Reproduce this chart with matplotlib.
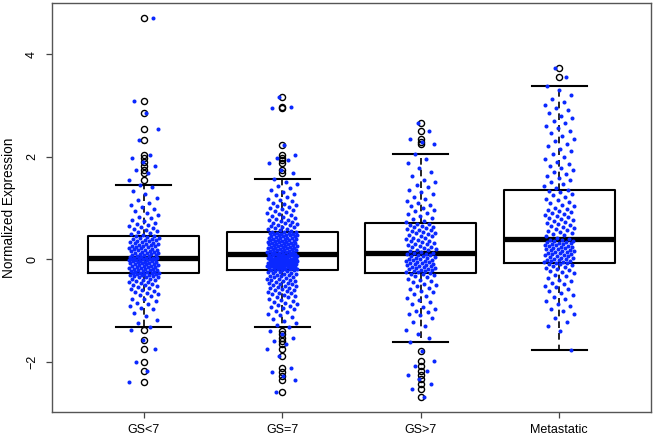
import numpy as np
import matplotlib
matplotlib.use("Agg")
import matplotlib.pyplot as plt

plt.rcParams['font.family'] = ['Liberation Sans', 'DejaVu Sans']

categories = ["GS<7", "GS=7", "GS>7", "Metastatic"]

# box statistics
medians = [0.03, 0.10, 0.11, 0.385]
q1s = [-0.28, -0.215, -0.28, -0.07]
q3s = [0.44, 0.53, 0.70, 1.35]
whis_lo = [-1.32, -1.32, -1.61, -1.78]
whis_hi = [1.45, 1.56, 2.04, 3.37]
fliers = [
    [-2.40, -2.18, -2.00, -1.76, -1.57, -1.38, 1.55, 1.68, 1.74, 1.82, 1.89, 1.97, 2.03, 2.32, 2.53, 2.85, 3.09, 4.70],
    [-2.59, -2.36, -2.28, -2.20, -2.13, -1.89, -1.75, -1.66, -1.60, -1.54, -1.47, -1.41,
     1.68, 1.74, 1.88, 1.93, 1.98, 2.03, 2.23, 2.94, 2.96, 3.17],
    [-2.70, -2.53, -2.44, -2.35, -2.26, -2.18, -2.09, -1.99, -1.79, 2.24, 2.28, 2.35, 2.49, 2.65],
    [3.56, 3.72],
]

# individual samples (estimated from the jittered points)
gs_lt7 = [
    -2.40, -2.18, -2.00, -1.76, -1.57, -1.38,
    -1.32, -1.24, -1.19, -1.11, -1.06, -0.98, -0.95, -0.91, -0.87, -0.86, -0.81, -0.78, -0.77, -0.73,
    -0.70, -0.69, -0.66, -0.64, -0.62, -0.61, -0.58, -0.56, -0.55, -0.53, -0.51, -0.50, -0.48, -0.47,
    -0.45, -0.44, -0.43, -0.41, -0.40, -0.39, -0.38, -0.36, -0.36, -0.35, -0.34, -0.33, -0.32, -0.31,
    -0.31, -0.30, -0.29, -0.29, -0.28,
    -0.28, -0.27, -0.27, -0.26, -0.25, -0.25, -0.24, -0.23, -0.22, -0.22, -0.21, -0.20, -0.19, -0.19,
    -0.18, -0.17, -0.16, -0.16, -0.15, -0.14, -0.13, -0.13, -0.12, -0.11, -0.10, -0.10, -0.09, -0.08,
    -0.08, -0.07, -0.06, -0.05, -0.05, -0.04, -0.03, -0.03, -0.02, -0.01, -0.01, 0.00, 0.00, 0.01,
    0.01, 0.02, 0.02, 0.03, 0.03, 0.03,
    0.04, 0.04, 0.05, 0.06, 0.07, 0.07, 0.08, 0.09, 0.10, 0.11, 0.12, 0.12, 0.13, 0.14, 0.15, 0.16,
    0.17, 0.18, 0.18, 0.19, 0.20, 0.21, 0.22, 0.23, 0.24, 0.25, 0.25, 0.26, 0.27, 0.28, 0.29, 0.30,
    0.31, 0.32, 0.33, 0.34, 0.35, 0.36, 0.37, 0.38, 0.39, 0.40, 0.41, 0.42, 0.43, 0.44, 0.44,
    0.46, 0.48, 0.50, 0.52, 0.54, 0.56, 0.58, 0.60, 0.62, 0.64, 0.66, 0.69, 0.71, 0.74, 0.77, 0.80,
    0.83, 0.86, 0.90, 0.93, 0.97, 1.01, 1.05, 1.10, 1.15, 1.20, 1.27, 1.33, 1.40, 1.45,
    1.55, 1.68, 1.74, 1.82, 1.89, 1.97, 2.03, 2.32, 2.53, 2.85, 3.09, 4.70,
]
gs_eq7 = [
    -2.59, -2.36, -2.28, -2.20, -2.13, -1.89, -1.75, -1.66, -1.60, -1.54, -1.47, -1.41,
    -1.32, -1.29, -1.24, -1.20, -1.17, -1.13, -1.10, -1.07, -1.04, -1.01, -0.98, -0.96, -0.93, -0.91,
    -0.89, -0.87, -0.85, -0.83, -0.81, -0.79, -0.77, -0.75, -0.74, -0.72, -0.70, -0.69, -0.67, -0.66,
    -0.64, -0.63, -0.61, -0.60, -0.58, -0.57, -0.56, -0.54, -0.53, -0.52, -0.50, -0.49, -0.48, -0.47,
    -0.46, -0.44, -0.43, -0.42, -0.41, -0.40, -0.39, -0.38, -0.37, -0.36, -0.35, -0.34, -0.33, -0.32,
    -0.31, -0.30, -0.29, -0.28, -0.27, -0.26, -0.25, -0.24, -0.23, -0.22,
    -0.21, -0.21, -0.20, -0.20, -0.19, -0.19, -0.18, -0.18, -0.17, -0.17, -0.16, -0.16, -0.15, -0.15,
    -0.14, -0.14, -0.13, -0.13, -0.12, -0.12, -0.12, -0.11, -0.11, -0.10, -0.10, -0.09, -0.09, -0.08,
    -0.08, -0.08, -0.07, -0.07, -0.06, -0.06, -0.05, -0.05, -0.04, -0.04, -0.04, -0.03, -0.03, -0.02,
    -0.02, -0.01, -0.01, 0.00, 0.00, 0.00, 0.01, 0.01, 0.02, 0.02, 0.03, 0.03, 0.04, 0.04, 0.04, 0.05,
    0.05, 0.06, 0.06, 0.07, 0.07, 0.08, 0.08, 0.08, 0.09, 0.09, 0.10,
    0.11, 0.11, 0.12, 0.13, 0.13, 0.14, 0.14, 0.15, 0.16, 0.16, 0.17, 0.17, 0.18, 0.19, 0.19, 0.20,
    0.21, 0.21, 0.22, 0.22, 0.23, 0.24, 0.24, 0.25, 0.26, 0.26, 0.27, 0.27, 0.28, 0.29, 0.29, 0.30,
    0.31, 0.31, 0.32, 0.32, 0.33, 0.34, 0.34, 0.35, 0.36, 0.36, 0.37, 0.37, 0.38, 0.39, 0.39, 0.40,
    0.41, 0.41, 0.42, 0.42, 0.43, 0.44, 0.44, 0.45, 0.46, 0.46, 0.47, 0.47, 0.48, 0.49, 0.49, 0.50,
    0.51, 0.51, 0.52, 0.52, 0.53,
    0.55, 0.56, 0.58, 0.59, 0.60, 0.62, 0.63, 0.64, 0.66, 0.67, 0.68, 0.70, 0.71, 0.73, 0.74, 0.76,
    0.77, 0.79, 0.80, 0.82, 0.84, 0.85, 0.87, 0.89, 0.91, 0.93, 0.95, 0.97, 0.99, 1.01, 1.03, 1.05,
    1.08, 1.10, 1.13, 1.15, 1.18, 1.21, 1.24, 1.27, 1.30, 1.34, 1.38, 1.42, 1.46, 1.51, 1.56,
    1.68, 1.74, 1.88, 1.93, 1.98, 2.03, 2.23, 2.94, 2.96, 3.17,
]
gs_gt7 = [
    -2.70, -2.53, -2.44, -2.35, -2.26, -2.18, -2.09, -1.99, -1.79,
    -1.61, -1.55, -1.47, -1.38, -1.30, -1.22, -1.16, -1.10, -1.07, -1.04, -1.01, -0.98, -0.93, -0.88,
    -0.84, -0.80, -0.76, -0.72, -0.68, -0.65, -0.62, -0.59, -0.56, -0.53, -0.50, -0.48, -0.45, -0.43,
    -0.40, -0.38, -0.36, -0.34, -0.32, -0.30, -0.29,
    -0.27, -0.26, -0.25, -0.24, -0.23, -0.22, -0.21, -0.20, -0.19, -0.18, -0.17, -0.16, -0.15, -0.14,
    -0.13, -0.12, -0.11, -0.10, -0.09, -0.08, -0.07, -0.06, -0.05, -0.04, -0.03, -0.02, -0.01, 0.00,
    0.01, 0.02, 0.03, 0.04, 0.05, 0.06, 0.07, 0.08, 0.09, 0.10, 0.11,
    0.12, 0.14, 0.15, 0.17, 0.18, 0.20, 0.21, 0.23, 0.24, 0.26, 0.27, 0.29, 0.30, 0.32, 0.33, 0.35,
    0.36, 0.38, 0.39, 0.41, 0.42, 0.44, 0.45, 0.47, 0.48, 0.50, 0.51, 0.53, 0.54, 0.56, 0.57, 0.59,
    0.60, 0.62, 0.63, 0.65, 0.66, 0.68, 0.69,
    0.72, 0.75, 0.78, 0.81, 0.84, 0.87, 0.90, 0.93, 0.96, 1.00, 1.03, 1.06, 1.10, 1.14, 1.18, 1.22,
    1.26, 1.30, 1.35, 1.40, 1.45, 1.50, 1.55, 1.62, 1.70, 1.78, 1.87, 1.96, 2.04,
    2.24, 2.28, 2.35, 2.49, 2.65,
]
metastatic = [
    -1.78, -1.40, -1.30, -1.22, -1.15, -1.08, -1.02, -0.97, -0.92, -0.87, -0.82, -0.78, -0.74, -0.70,
    -0.66, -0.62, -0.58, -0.55, -0.52, -0.49, -0.46, -0.43, -0.40, -0.37, -0.34, -0.31, -0.28, -0.26,
    -0.24, -0.22, -0.20, -0.18, -0.16, -0.14, -0.12, -0.10, -0.09, -0.08, -0.07,
    -0.06, -0.05, -0.04, -0.03, -0.02, -0.01, 0.00, 0.01, 0.02, 0.03, 0.04, 0.05, 0.06, 0.07, 0.08,
    0.09, 0.10, 0.11, 0.12, 0.13, 0.14, 0.15, 0.16, 0.17, 0.18, 0.19, 0.20, 0.21, 0.22, 0.23, 0.24,
    0.25, 0.26, 0.27, 0.28, 0.29, 0.30, 0.31, 0.32, 0.33, 0.34, 0.35, 0.36, 0.37, 0.38,
    0.40, 0.42, 0.44, 0.46, 0.48, 0.50, 0.52, 0.54, 0.56, 0.58, 0.60, 0.62, 0.64, 0.66, 0.68, 0.70,
    0.72, 0.74, 0.76, 0.78, 0.80, 0.82, 0.84, 0.86, 0.88, 0.90, 0.92, 0.94, 0.96, 0.98, 1.00, 1.03,
    1.06, 1.09, 1.12, 1.15, 1.18, 1.21, 1.24, 1.27, 1.30, 1.33, 1.35,
    1.38, 1.42, 1.46, 1.50, 1.54, 1.58, 1.62, 1.66, 1.70, 1.74, 1.78, 1.82, 1.86, 1.90, 1.95, 2.00,
    2.05, 2.10, 2.15, 2.20, 2.25, 2.30, 2.35, 2.40, 2.45, 2.50, 2.55, 2.60, 2.65, 2.70, 2.75, 2.80,
    2.85, 2.90, 2.95, 3.00, 3.06, 3.12, 3.20, 3.30, 3.37,
    3.56, 3.72,
]
samples = [gs_lt7, gs_eq7, gs_gt7, metastatic]

fig = plt.figure(figsize=(6.55, 4.38), dpi=100)
ax = fig.add_axes([0.0799, 0.0587, 0.9135, 0.9338])

stats = []
for i, name in enumerate(categories):
    stats.append(dict(label=name, med=medians[i], q1=q1s[i], q3=q3s[i],
                      whislo=whis_lo[i], whishi=whis_hi[i], fliers=fliers[i]))

positions = np.arange(1, len(categories) + 1)
ax.bxp(stats, positions=positions, widths=0.8, capwidths=0.4,
       boxprops=dict(color='black', linewidth=1.5),
       medianprops=dict(color='black', linewidth=3.8, solid_capstyle='butt'),
       whiskerprops=dict(color='black', linewidth=1.2, linestyle=(0, (4, 3))),
       capprops=dict(color='black', linewidth=1.5),
       flierprops=dict(marker='o', markerfacecolor='none', markeredgecolor='black',
                       markersize=4.4, markeredgewidth=1.0),
       manage_ticks=False, zorder=2)

golden = 0.6180339887
for i, vals in enumerate(samples):
    v = np.asarray(vals, dtype=float)
    idx = np.arange(len(v))
    offs = ((idx * golden + 0.3 * i) % 1.0) * 2 - 1
    ax.scatter(positions[i] + offs * 0.11, v, s=8.5, color='#0a28ff',
               linewidths=0, zorder=3)

ax.set_xlim(0.34, 4.66)
ax.set_ylim(-2.99, 4.99)
ax.set_xticks(positions)
ax.set_xticklabels(categories)
ax.set_yticks([-2, 0, 2, 4])
ax.set_yticklabels(['\u22122', '0', '2', '4'], rotation=90, va='center')
ax.set_ylabel('Normalized Expression', fontsize=9.8)
ax.yaxis.set_label_coords(-0.061, 0.5)
ax.tick_params(axis='both', labelsize=9, length=4.3, width=0.9, color='#444444')
ax.tick_params(axis='x', pad=4)
ax.tick_params(axis='y', pad=6)
for sp in ax.spines.values():
    sp.set_color('#555555')
    sp.set_linewidth(1.0)

fig.savefig('out.png', dpi=100)
